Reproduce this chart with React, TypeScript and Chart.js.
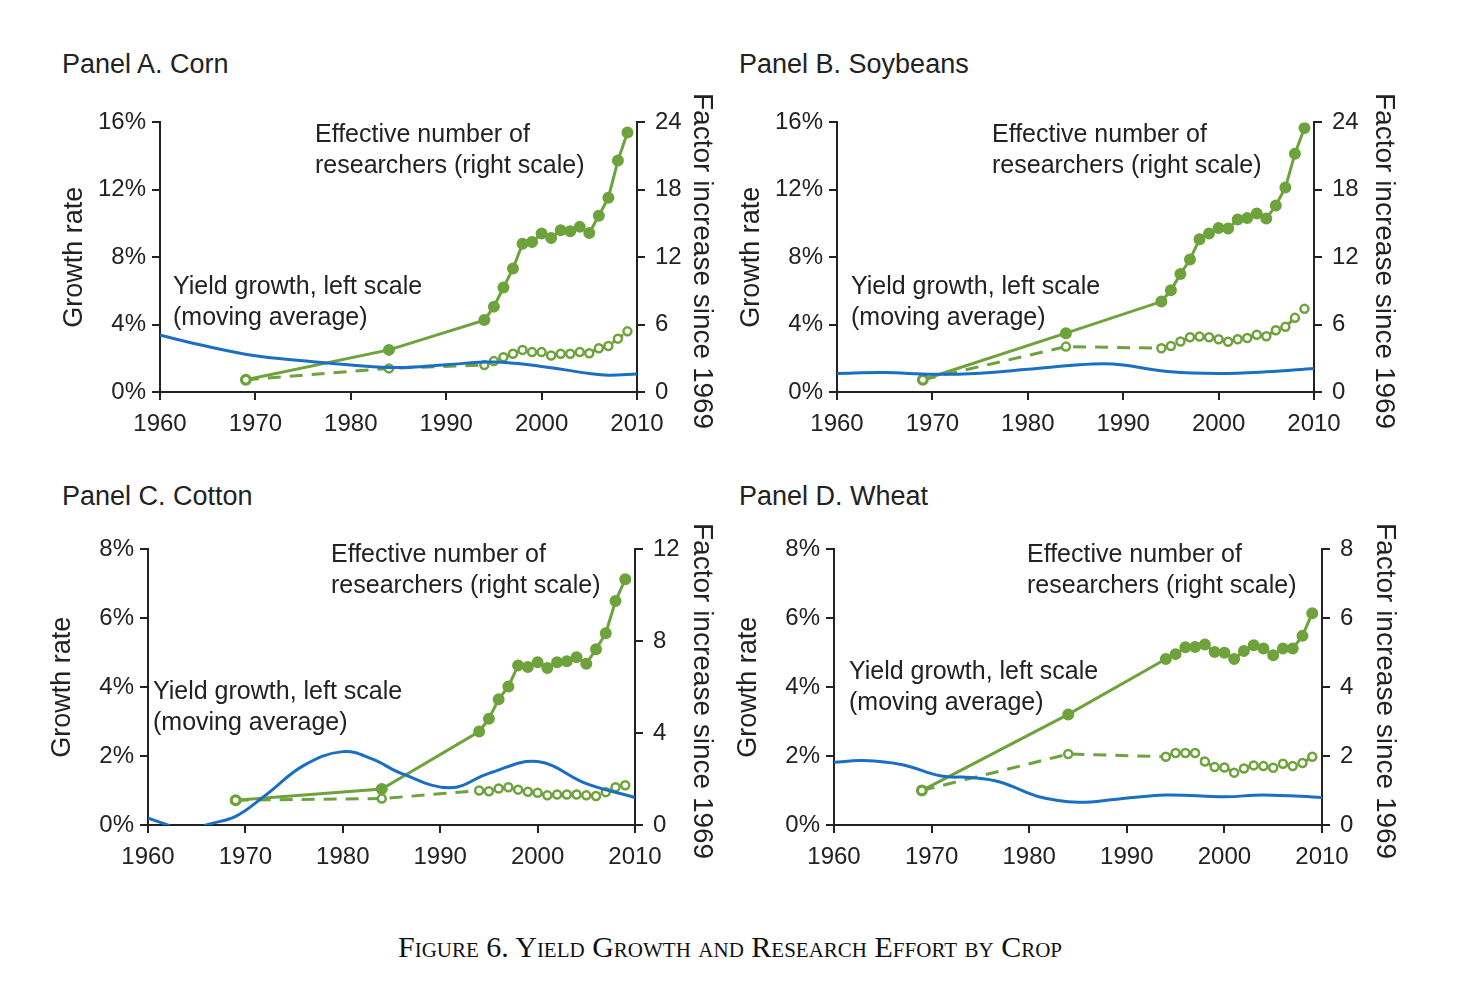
import React, { useEffect, useRef } from "react";
import { Chart, registerables } from "chart.js";
Chart.register(...registerables);

const GREEN = "#6ea23c";
const BLUE = "#1b6fc2";
const FONT = "'Liberation Sans', Arial, sans-serif";

const researchYears = [1969, 1984, 1994, 1995, 1996, 1997, 1998, 1999, 2000, 2001, 2002, 2003, 2004, 2005, 2006, 2007, 2008, 2009];

// Panel A. Corn
const cornYieldYears = [1960, 1965, 1970, 1975, 1980, 1985, 1990, 1995, 2000, 2005, 2007, 2010];
const cornYield = [3.37, 2.7, 2.15, 1.85, 1.6, 1.45, 1.62, 1.78, 1.52, 1.1, 1.0, 1.07];
const cornSolid = [1.09, 3.75, 6.4, 7.6, 9.3, 11.0, 13.2, 13.35, 14.1, 13.7, 14.4, 14.3, 14.7, 14.15, 15.7, 17.3, 20.6, 23.1];
const cornDashed = [1.09, 2.1, 2.4, 2.75, 3.1, 3.4, 3.75, 3.55, 3.55, 3.25, 3.4, 3.4, 3.55, 3.45, 3.9, 4.1, 4.75, 5.4];

// Panel B. Soybeans
const soyYieldYears = [1960, 1965, 1970, 1975, 1980, 1985, 1988, 1990, 1995, 2000, 2005, 2010];
const soyYield = [1.1, 1.15, 1.05, 1.12, 1.35, 1.6, 1.68, 1.6, 1.2, 1.1, 1.2, 1.4];
const soySolid = [1.09, 5.24, 8.05, 9.05, 10.5, 11.8, 13.6, 14.1, 14.6, 14.55, 15.35, 15.5, 15.9, 15.45, 16.6, 18.2, 21.2, 23.5];
const soyDashed = [1.09, 4.04, 3.9, 4.1, 4.5, 4.87, 4.93, 4.87, 4.7, 4.47, 4.7, 4.8, 5.1, 4.96, 5.5, 5.8, 6.6, 7.4];

// Panel C. Cotton
const cottonYieldYears = [1960, 1962, 1964, 1966, 1969, 1972, 1976, 1980, 1983, 1986, 1991, 1995, 2000, 2005, 2010];
const cottonYield = [0.2, 0.0, -0.25, 0.0, 0.25, 0.85, 1.73, 2.13, 1.92, 1.5, 1.08, 1.5, 1.84, 1.2, 0.8];
const cottonSolid = [1.08, 1.57, 4.07, 4.63, 5.47, 6.03, 6.95, 6.88, 7.09, 6.84, 7.09, 7.13, 7.3, 7.02, 7.65, 8.35, 9.75, 10.7];
const cottonDashed = [1.08, 1.15, 1.5, 1.47, 1.59, 1.64, 1.54, 1.45, 1.4, 1.29, 1.33, 1.33, 1.33, 1.29, 1.26, 1.43, 1.64, 1.73];

// Panel D. Wheat
const wheatYieldYears = [1960, 1963, 1967, 1971, 1974, 1977, 1981, 1985, 1989, 1994, 2000, 2004, 2010];
const wheatYield = [1.82, 1.87, 1.75, 1.42, 1.38, 1.25, 0.82, 0.66, 0.75, 0.87, 0.82, 0.87, 0.8];
const wheatSolid = [1.0, 3.21, 4.82, 4.96, 5.16, 5.17, 5.24, 5.02, 5.0, 4.82, 5.05, 5.22, 5.12, 4.93, 5.12, 5.12, 5.49, 6.15];
const wheatDashed = [1.0, 2.06, 1.98, 2.09, 2.09, 2.09, 1.84, 1.68, 1.67, 1.52, 1.64, 1.73, 1.71, 1.66, 1.78, 1.71, 1.8, 1.98];

const xTicks = [1960, 1970, 1980, 1990, 2000, 2010];

type PanelProps = {
  title: string;
  plot: { l: number; r: number; t: number; b: number };
  leftMax: number; leftStep: number;
  rightMax: number; rightStep: number;
  yieldYears: number[]; yieldVals: number[];
  solid: number[]; dashed: number[];
  eff: [number, number]; yld: [number, number];
  titlePos: [number, number];
  rTitle: [number, number];
};

const LW = 120, RW = 103, PT = 15, BH = 60;

function Panel(p: PanelProps) {
  const ref = useRef<HTMLCanvasElement>(null);
  const cl = p.plot.l - LW, ct = p.plot.t - PT;
  const cw = p.plot.r + RW - cl, ch = p.plot.b + BH - ct;
  useEffect(() => {
    const pts = (xs: number[], ys: number[]) => xs.map((x, i) => ({ x, y: ys[i] }));
    const tickFont = { family: FONT, size: 24 };
    const axisCommon = {
      border: { display: true, color: "#222", width: 2 },
      grid: { display: true, drawOnChartArea: false, drawTicks: true, tickLength: 8, color: "#222", lineWidth: 2 },
    };
    const chart = new Chart(ref.current!, {
      type: "line",
      data: {
        datasets: [
          { data: pts(p.yieldYears, p.yieldVals), borderColor: BLUE, borderWidth: 3, pointRadius: 0, tension: 0.4, yAxisID: "y" },
          { data: pts(researchYears, p.dashed), borderColor: GREEN, borderWidth: 3, borderDash: [13, 9], pointRadius: 4, pointBorderWidth: 2.5, pointBackgroundColor: "#fff", pointBorderColor: GREEN, yAxisID: "y2" },
          { data: pts(researchYears, p.solid), borderColor: GREEN, borderWidth: 3, pointRadius: 4.5, pointBackgroundColor: GREEN, pointBorderColor: GREEN, yAxisID: "y2" },
        ],
      } as any,
      options: {
        animation: false,
        responsive: false,
        maintainAspectRatio: false,
        layout: { autoPadding: false, padding: { top: PT - 8, left: 0, right: 0, bottom: 0 } },
        plugins: { legend: { display: false }, tooltip: { enabled: false } },
        scales: {
          x: {
            type: "linear", min: 1960, max: 2010,
            afterBuildTicks: (s: any) => { s.ticks = xTicks.map((v) => ({ value: v })); },
            afterFit: (s: any) => { s.height = BH; },
            ticks: { font: tickFont, color: "#222", padding: 10, maxRotation: 0, callback: (v: any) => String(v) },
            ...axisCommon,
          },
          y: {
            position: "left", min: 0, max: p.leftMax,
            afterFit: (s: any) => { s.width = LW; },
            ticks: { stepSize: p.leftStep, font: tickFont, color: "#222", padding: 6, callback: (v: any) => v + "%" },
            title: { display: true, text: "Growth rate", font: { family: FONT, size: 27 }, color: "#222", padding: { top: 18, bottom: 0 } },
            ...axisCommon,
          },
          y2: {
            position: "right", min: 0, max: p.rightMax,
            afterFit: (s: any) => { s.width = RW; },
            ticks: { stepSize: p.rightStep, font: tickFont, color: "#222", padding: 10 },
            ...axisCommon,
          },
        },
      } as any,
    });
    return () => chart.destroy();
  }, []);
  const txt: React.CSSProperties = { position: "absolute", fontFamily: FONT, fontSize: 25, color: "#222", lineHeight: "31px", whiteSpace: "nowrap" };
  return (
    <>
      <canvas ref={ref} width={cw} height={ch} style={{ position: "absolute", left: cl, top: ct, width: cw, height: ch }} />
      <div style={{ ...txt, fontSize: 27, left: p.titlePos[0], top: p.titlePos[1] - 16 }}>{p.title}</div>
      <div style={{ ...txt, left: p.eff[0], top: p.eff[1] - 16 }}>Effective number of<br />researchers (right scale)</div>
      <div style={{ ...txt, left: p.yld[0], top: p.yld[1] - 16 }}>Yield growth, left scale<br />(moving average)</div>
      <div style={{ ...txt, fontSize: 28, lineHeight: "32px", writingMode: "vertical-rl", left: p.rTitle[0] - 16, top: p.rTitle[1] }}>Factor increase since 1969</div>
    </>
  );
}

export default function App() {
  return (
    <div style={{ position: "relative", width: 1484, height: 984, background: "#fff", margin: -8 }}>
      <Panel title="Panel A. Corn" titlePos={[62, 65]} plot={{ l: 160, r: 637, t: 113, b: 392 }}
        leftMax={16} leftStep={4} rightMax={24} rightStep={6}
        yieldYears={cornYieldYears} yieldVals={cornYield} solid={cornSolid} dashed={cornDashed}
        eff={[315, 134]} yld={[173, 286]} rTitle={[703, 93]} />
      <Panel title="Panel B. Soybeans" titlePos={[739, 65]} plot={{ l: 837, r: 1314, t: 113, b: 392 }}
        leftMax={16} leftStep={4} rightMax={24} rightStep={6}
        yieldYears={soyYieldYears} yieldVals={soyYield} solid={soySolid} dashed={soyDashed}
        eff={[992, 134]} yld={[851, 286]} rTitle={[1385, 93]} />
      <Panel title="Panel C. Cotton" titlePos={[62, 497]} plot={{ l: 148, r: 635, t: 540, b: 825 }}
        leftMax={8} leftStep={2} rightMax={12} rightStep={4}
        yieldYears={cottonYieldYears} yieldVals={cottonYield} solid={cottonSolid} dashed={cottonDashed}
        eff={[331, 554]} yld={[153, 691]} rTitle={[703, 523]} />
      <Panel title="Panel D. Wheat" titlePos={[739, 497]} plot={{ l: 834, r: 1322, t: 540, b: 825 }}
        leftMax={8} leftStep={2} rightMax={8} rightStep={2}
        yieldYears={wheatYieldYears} yieldVals={wheatYield} solid={wheatSolid} dashed={wheatDashed}
        eff={[1027, 554]} yld={[849, 671]} rTitle={[1386, 523]} />
      <div style={{ position: "absolute", left: 0, width: 1460, top: 930, textAlign: "center", fontFamily: "'Liberation Serif', serif", fontVariant: "small-caps", fontSize: 30, color: "#111" }}>
        Figure 6. Yield Growth and Research Effort by Crop
      </div>
    </div>
  );
}
